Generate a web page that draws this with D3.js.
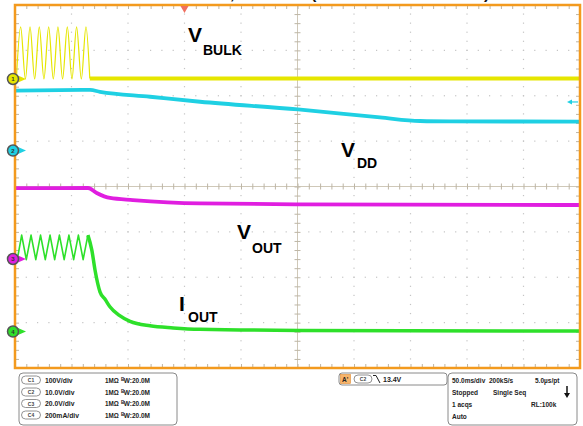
<!DOCTYPE html>
<html><head><meta charset="utf-8">
<script src="https://cdn.jsdelivr.net/npm/d3@7"></script>
<style>
html,body{margin:0;padding:0;background:#fff;}
svg{display:block;font-family:"Liberation Sans",Arial,Helvetica,sans-serif;}
</style></head>
<body>
<svg id="c" width="583" height="426"></svg>
<script>
// ---------------- data ----------------
const channels = ["C1", "C2", "C3", "C4"];
const channelScales = ["100V/div", "10.0V/div", "20.0V/div", "200mA/div"];
const channelNames = ["BULK", "DD", "OUT", "OUT"];
const channelLetters = ["V", "V", "V", "I"];

// VBULK (C1, volts) vs time (ms)
const vBulkT = [1.2, 5.0, 9.2, 13.3, 17.4, 21.5, 25.6, 29.8, 33.9, 38.0, 42.1, 46.3, 50.4, 54.5, 58.7, 62.8, 66.2, 120, 250, 400, 500];
const vBulkV = [0, 115, 0, 115, 0, 115, 0, 115, 0, 115, 0, 115, 0, 115, 0, 115, 1, 1, 1, 1, 1];
// VDD (C2, volts)
const vddT = [0, 66.4, 75.2, 119.5, 163.7, 250.4, 323, 358.4, 385, 500];
const vddV = [13.2, 13.35, 12.95, 11.85, 10.75, 9.05, 7.3, 6.5, 6.42, 6.38];
// VOUT (C3, volts)
const voutT = [0, 64.6, 72.3, 84.1, 104.4, 163.7, 252.2, 500];
const voutV = [31.2, 31.3, 29.1, 26.9, 26.0, 24.5, 24.1, 23.8];
// IOUT (C4, mA) ripple part and decay part
const ioutRippleT = [2.0, 5.9, 10.0, 14.2, 18.4, 22.6, 26.8, 31.0, 35.1, 39.3, 43.5, 47.7, 51.9, 56.1, 60.3, 64.5];
const ioutRippleI = [317, 425, 317, 425, 317, 425, 317, 425, 317, 425, 317, 425, 317, 425, 317, 425];
const ioutDecayT = [64.5, 68, 70.8, 75.2, 80, 84, 92, 101.8, 119.5, 140, 163.7, 252, 500];
const ioutDecayI = [425, 359, 271, 175, 140, 109, 72, 45, 25, 16, 10, 5, 2];

const timeInfo = ["50.0ms/div", "200kS/s", "5.0µs/pt", "Stopped", "Single Seq", "1 acqs", "RL:100k", "Auto"];
const triggerLevel = "13.4V";

// ---------------- layout ----------------
const L = 15, R = 580, T = 5, B = 368;
const colors = ["#e6e600", "#1fd0e3", "#e01ee0", "#2ee02a"];
const offsets = [2.37, 0.793, -1.598, -3.196];   // ground position in divisions
const perDiv = [100, 10, 20, 200];

const svg = d3.select("#c");
svg.append("rect").attr("width", 583).attr("height", 426).attr("fill", "#fff");

const xDiv = d3.scaleLinear().domain([0, 10]).range([L, R]);
const yDiv = d3.scaleLinear().domain([-4, 4]).range([B, T]);
const xT = d3.scaleLinear().domain([0, 500]).range([L, R]);
const chY = perDiv.map((p, i) => d3.scaleLinear()
  .domain([(-4 - offsets[i]) * p, (4 - offsets[i]) * p]).range([B, T]));

// ---------------- graticule ----------------
const g = svg.append("g");
const minor = d3.range(0, 50.001, 1).map(d => d / 5);
const minorY = d3.range(0, 40.001, 1).map(d => d / 5 - 4);
for (let i = 1; i < 10; i++) {
  if (i === 5) continue;
  g.selectAll(null).data(minorY).enter().append("rect")
    .attr("x", xDiv(i) - 0.6).attr("y", d => yDiv(d) - 0.6)
    .attr("width", 1.2).attr("height", 1.2).attr("fill", "#c4c4c4");
}
for (let j = -3; j <= 3; j++) {
  if (j === 0) continue;
  g.selectAll(null).data(minor).enter().append("rect")
    .attr("x", d => xDiv(d) - 0.6).attr("y", yDiv(j) - 0.6)
    .attr("width", 1.2).attr("height", 1.2).attr("fill", "#c4c4c4");
}
g.append("line").attr("x1", xDiv(5)).attr("x2", xDiv(5)).attr("y1", T).attr("y2", B)
  .attr("stroke", "#cfc8b8").attr("stroke-width", 1);
g.append("line").attr("x1", L).attr("x2", R).attr("y1", yDiv(0)).attr("y2", yDiv(0))
  .attr("stroke", "#cfc8b8").attr("stroke-width", 1);

function tickAxis(axis, transform, size) {
  const a = g.append("g").attr("transform", transform)
    .call(axis.tickSize(size).tickFormat(""));
  a.select(".domain").remove();
  a.selectAll("line").attr("stroke", "#bdb6a6").attr("stroke-width", 1);
  return a;
}
const tickXs = minor.filter(d => d > 0 && d < 10);
const tickYs = minorY.filter(d => d > -4 && d < 4);
tickAxis(d3.axisBottom(xDiv).tickValues(tickXs), `translate(0,${yDiv(0) - 3})`, 6);
tickAxis(d3.axisRight(yDiv).tickValues(tickYs), `translate(${xDiv(5) - 3},0)`, 6);
tickAxis(d3.axisBottom(xDiv).tickValues(tickXs), `translate(0,${T})`, 4);
tickAxis(d3.axisTop(xDiv).tickValues(tickXs), `translate(0,${B})`, 4);
tickAxis(d3.axisRight(yDiv).tickValues(tickYs), `translate(${L},0)`, 4);
tickAxis(d3.axisLeft(yDiv).tickValues(tickYs), `translate(${R},0)`, 4);

// ---------------- traces ----------------
const tr = svg.append("g");
function path(ts, vs, ch, curve, w) {
  const pts = ts.map((t, i) => [t, vs[i]]);
  const line = d3.line().x(d => xT(d[0])).y(d => chY[ch](d[1])).curve(curve);
  tr.append("path").attr("d", line(pts)).attr("fill", "none")
    .attr("stroke", colors[ch]).attr("stroke-width", w)
    .attr("stroke-linejoin", "round").attr("stroke-linecap", "butt");
}
const cut = vBulkT.indexOf(66.2);
path(vBulkT.slice(0, cut + 1), vBulkV.slice(0, cut + 1), 0, d3.curveMonotoneX, 1.2);
path(vBulkT.slice(cut), vBulkV.slice(cut), 0, d3.curveMonotoneX, 4);
path(vddT, vddV, 1, d3.curveMonotoneX, 3.8);
path(voutT, voutV, 2, d3.curveMonotoneX, 3.8);
path(ioutRippleT, ioutRippleI, 3, d3.curveLinear, 1.6);
path(ioutDecayT, ioutDecayI, 3, d3.curveMonotoneX, 3.5);

// border
svg.append("rect").attr("x", L).attr("y", T).attr("width", R - L).attr("height", B - T)
  .attr("fill", "none").attr("stroke", "#f39a1e").attr("stroke-width", 2.5);

// title above the screen, clipped by the top edge (only descenders visible)
const title = svg.append("text").attr("y", -1).attr("font-size", 16).attr("font-weight", "bold").attr("fill", "#111");
title.append("tspan").attr("x", 230).text(",");
title.append("tspan").attr("x", 311).text("(");
title.append("tspan").attr("x", 484).text(")");

// trigger position marker
svg.append("path").attr("d", `M${xT(150) - 4},${T + 1}L${xT(150) + 4},${T + 1}L${xT(150)},${T + 8}Z`)
  .attr("fill", "#f07060");
// trigger level arrow (C2)
const tly = chY[1](10.7);
svg.append("path").attr("d", `M567,${tly}L572,${tly - 2.5}L572,${tly + 2.5}Z`).attr("fill", colors[1]);
svg.append("line").attr("x1", 571).attr("x2", 578).attr("y1", tly).attr("y2", tly).attr("stroke", colors[1]).attr("stroke-width", 1.2);

// ground markers
channels.forEach((c, i) => {
  const y = chY[i](0);
  svg.append("path").attr("d", `M18,${y - 3.5}L26,${y}L18,${y + 3.5}Z`).attr("fill", colors[i]);
  svg.append("circle").attr("cx", 13).attr("cy", y).attr("r", 5.5)
    .attr("fill", colors[i]).attr("stroke", "#555").attr("stroke-width", 1.5);
  svg.append("text").attr("x", 13).attr("y", y + 2).attr("text-anchor", "middle")
    .attr("font-size", 6).attr("font-weight", "bold").attr("fill", "#333").text(i + 1);
});

// channel labels
const labelPos = [[188, 42, 203, 55], [341, 157, 357, 168], [237, 239, 252, 253], [179, 311, 188, 322]];
labelPos.forEach((p, i) => {
  const t = svg.append("text").attr("font-weight", "bold").attr("fill", "#000");
  t.append("tspan").attr("x", p[0]).attr("y", p[1]).attr("font-size", 21).text(channelLetters[i]);
  t.append("tspan").attr("x", p[2]).attr("y", p[3]).attr("font-size", 14).text(channelNames[i]);
});

// ---------------- info panels ----------------
const info = svg.append("g").attr("font-weight", "bold").attr("fill", "#222");
info.append("rect").attr("x", 19).attr("y", 373).attr("width", 158).attr("height", 52).attr("rx", 4)
  .attr("fill", "#fff").attr("stroke", "#8a8a8a").attr("stroke-width", 1);
const rowY = [380, 392, 403.5, 415];
channels.forEach((c, i) => {
  const y = rowY[i];
  info.append("rect").attr("x", 21.5).attr("y", y - 4).attr("width", 19).attr("height", 8).attr("rx", 4)
    .attr("fill", "#fff").attr("stroke", "#777").attr("stroke-width", 0.8);
  info.append("text").attr("x", 31).attr("y", y + 2).attr("text-anchor", "middle").attr("font-size", 5)
    .attr("fill", "#444").text(c);
  info.append("text").attr("x", 45).attr("y", y + 2.5).attr("font-size", 6.8).text(channelScales[i]);
  info.append("text").attr("x", 105).attr("y", y + 2.5).attr("font-size", 6.3).text("1MΩ");
  const bw = info.append("text").attr("x", 121).attr("y", y + 2.5).attr("font-size", 6.5);
  bw.append("tspan").attr("font-size", 4.5).attr("dy", -2).text("B");
  bw.append("tspan").attr("dy", 2).attr("dx", -0.5).text("W");
  bw.append("tspan").text(":20.0M");
});

// trigger panel
info.append("rect").attr("x", 339).attr("y", 373).attr("width", 108).attr("height", 12).attr("rx", 3)
  .attr("fill", "#fff").attr("stroke", "#8a8a8a").attr("stroke-width", 1);
info.append("rect").attr("x", 340.5).attr("y", 374.5).attr("width", 10).attr("height", 9)
  .attr("fill", "#f7b46a").attr("stroke", "#e08a30").attr("stroke-width", 0.6);
info.append("text").attr("x", 342).attr("y", 382).attr("font-size", 6.5).text("A'");
info.append("rect").attr("x", 354).attr("y", 375).attr("width", 18).attr("height", 8).attr("rx", 4)
  .attr("fill", "#fff").attr("stroke", "#777").attr("stroke-width", 0.8);
info.append("text").attr("x", 363).attr("y", 381).attr("text-anchor", "middle").attr("font-size", 5).attr("fill", "#444").text("C2");
info.append("path").attr("d", "M373,375.5L376,375.5L380,383").attr("fill", "none").attr("stroke", "#222").attr("stroke-width", 1);
info.append("text").attr("x", 383).attr("y", 381.5).attr("font-size", 7).text(triggerLevel);

// time panel
info.append("rect").attr("x", 448).attr("y", 373).attr("width", 129).attr("height", 52).attr("rx", 4)
  .attr("fill", "#fff").attr("stroke", "#8a8a8a").attr("stroke-width", 1);
const tInfo = [[452, 382.5], [489, 382.5], [535, 382.5], [452, 395], [493, 395], [452, 406.5], [531, 406.5], [452, 419]];
timeInfo.forEach((s, i) => {
  info.append("text").attr("x", tInfo[i][0]).attr("y", tInfo[i][1]).attr("font-size", 6.5).text(s);
});
info.append("line").attr("x1", 567).attr("x2", 567).attr("y1", 386).attr("y2", 394).attr("stroke", "#111").attr("stroke-width", 1.5);
info.append("path").attr("d", "M564,393L570,393L567,398Z").attr("fill", "#111");
</script>
</body></html>
